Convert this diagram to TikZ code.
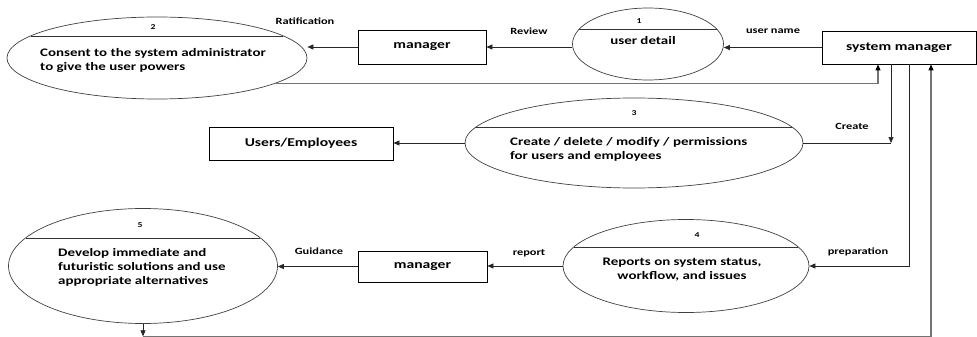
\documentclass[tikz,border=0pt]{standalone}
\usepackage{fontspec}
\setmainfont{Carlito}[FakeStretch=1.3]
\usetikzlibrary{arrows.meta,positioning,shapes.geometric,calc}

\tikzset{
  process/.style={ellipse, draw=black!75, line width=0.7pt, inner sep=0pt},
  entity/.style={rectangle, draw=black, line width=0.8pt, inner sep=0pt, font=\fontsize{12}{14}\selectfont\bfseries},
  ptext/.style={inner sep=0pt, font=\fontsize{11.5}{14}\selectfont\bfseries},
  pnum/.style={inner sep=0pt, font=\fontsize{7.5}{9}\selectfont\bfseries},
  lbl/.style={inner sep=0pt, font=\fontsize{9.5}{11}\selectfont\bfseries},
  flow/.style={draw=black!85, line width=0.7pt, -{Triangle[length=6pt,width=5pt]}},
  feed/.style={draw=black!55, line width=1.1pt, -{Triangle[length=6pt,width=5pt,fill=black,color=black]}},
}

\begin{document}
\begin{tikzpicture}[x=1pt, y=-1pt]
\useasboundingbox (0,0) rectangle (977,337);

% external entities
\node[entity, minimum width=154pt, minimum height=33pt] (sm) at (899,47.5) {system manager};
\node[entity, minimum width=128pt, minimum height=34pt] (m1) at (422,47) {manager};
\node[entity, minimum width=184pt, minimum height=33pt] (ue) at (301,143.5) {Users/Employees};
\node[entity, minimum width=129pt, minimum height=31pt] (m2) at (422.5,266.5) {manager};

% processes
\node[process, minimum width=151pt, minimum height=72pt] (p1) at (648,44) {};
\node[process, minimum width=300pt, minimum height=82pt] (p2) at (157,58) {};
\node[process, minimum width=338pt, minimum height=90pt] (p3) at (634,143) {};
\node[process, minimum width=246pt, minimum height=93pt] (p4) at (686,266) {};
\node[process, minimum width=269pt, minimum height=115pt] (p5) at (143,266) {};

\foreach \p/\dx/\dy in {p1/69/15, p2/126/22, p3/158/16, p4/112/19, p5/117/28}
  \draw[black!80, line width=0.7pt] ($(\p.center)+(-\dx,-\dy)$) -- ($(\p.center)+(\dx,-\dy)$);

\node[pnum] (n1) at (639,21) {1};
\node[pnum] (n2) at (153,27) {2};
\node[pnum] (n3) at (634,113) {3};
\node[pnum] (n4) at (697,235) {4};
\node[pnum] (n5) at (140,225) {5};

\node[ptext] (t1) at (643,41) {user detail};
\node[ptext, anchor=west, align=left] (t2) at (40,60) {Consent to the system administrator\\to give the user powers};
\node[ptext, anchor=west, align=left] (t3) at (510,149) {Create / delete / modify / permissions\\for users and employees};
\node[ptext, align=center] (t4) at (682,270) {Reports on system status,\\workflow, and issues};
\node[ptext, anchor=west, align=left] (t5) at (58,267) {Develop immediate and\\futuristic solutions and use\\appropriate alternatives};

% flows
\coordinate (smA) at ([xshift=-21pt]sm.south);
\coordinate (smB) at ([xshift=-8pt]sm.south);
\coordinate (smC) at ([xshift=10pt]sm.south);
\coordinate (smD) at ([xshift=32pt]sm.south);
\coordinate (crt) at (smB |- p3.east);
\coordinate (lp) at ([yshift=-12.5pt]p5.south);

\draw[flow] (sm.west) -- (sm.west -| p1.east);
\draw[flow] (p1.west |- m1.east) -- (m1.east);
\draw[flow] (m1.west) -- (m1.west -| p2.east);
\draw[feed] (p2.-12) -| (smA);
\draw[flow] (smB) -- (crt);
\draw[black!85, line width=0.7pt] (p3.east) -- (crt);
\draw[flow] (p3.west) -- (p3.west -| ue.east);
\draw[flow] (smC) |- (p4.east);
\draw[flow] (p4.west) -- (p4.west -| m2.east);
\draw[flow] (m2.west) -- (m2.west -| p5.east);
\draw[flow] (p5.south) -- (lp);
\draw[feed] (lp) -| (smD);

% flow labels
\node[lbl] (lrat) at (305,21) {Ratification};
\node[lbl] (lrev) at (529,31) {Review};
\node[lbl] (luser) at (773,31) {user name};
\node[lbl] (lcre) at (852,126) {Create};
\node[lbl] (lprep) at (858,252) {preparation};
\node[lbl] (lrep) at (529,253) {report};
\node[lbl] (lguid) at (319,251) {Guidance};
\end{tikzpicture}
\end{document}
